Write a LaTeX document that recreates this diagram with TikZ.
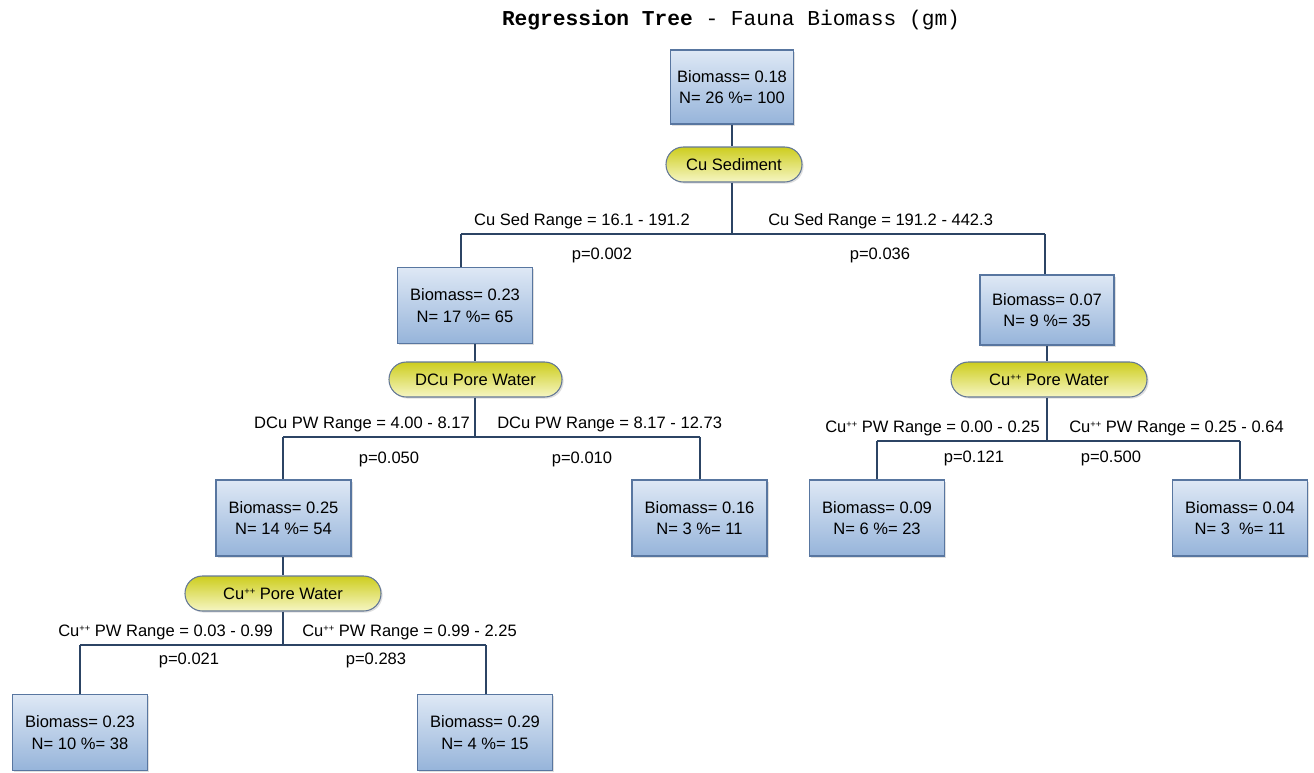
\documentclass[tikz,border=0pt]{standalone}
\usepackage{fontspec}
\setmainfont{Liberation Sans}
\newfontfamily\titlefont{Liberation Mono}
\usetikzlibrary{shadows}
\definecolor{boxtop}{RGB}{222,232,245}
\definecolor{boxbot}{RGB}{150,180,218}
\definecolor{boxline}{RGB}{88,118,160}
\definecolor{pilltop}{RGB}{205,205,30}
\definecolor{pillbot}{RGB}{246,246,196}
\definecolor{pillline}{RGB}{100,120,150}
\definecolor{conn}{RGB}{44,68,100}
\tikzset{
  leafbox/.style={rectangle, draw=boxline, line width=0.8pt, top color=boxtop, bottom color=boxbot,
    inner sep=0pt, minimum width=101.25pt, minimum height=57pt, align=center,
    font=\fontsize{12.4}{16}\selectfont,
    drop shadow={shadow xshift=1.2pt, shadow yshift=-1.2pt, opacity=0.25}},
  pill/.style={rectangle, rounded corners=13pt, draw=pillline, line width=0.8pt, top color=pilltop, bottom color=pillbot,
    inner sep=0pt, minimum height=26.25pt, font=\fontsize{12.4}{14}\selectfont,
    drop shadow={shadow xshift=1.2pt, shadow yshift=-1.2pt, opacity=0.25}},
  lbl/.style={inner sep=0pt, font=\fontsize{12.4}{14}\selectfont},
  conn/.style={draw=conn, line width=1.8pt}
}
\newcommand{\cupp}{Cu\raisebox{0.55ex}{\fontsize{7}{7}\selectfont ++}}
\begin{document}
\begin{tikzpicture}[x=0.75pt, y=-0.75pt]
\useasboundingbox (0,0) rectangle (1314,772);
\node[inner sep=0pt, font=\titlefont\fontsize{15.9}{18}\selectfont] (title) at (731,20) {\textbf{Regression Tree} - Fauna Biomass (gm)};

% level 0
\node[leafbox, minimum width=92.25pt, minimum height=55.5pt] (root) at (732,87) {Biomass= 0.18\\N= 26 \%= 100};
\node[pill, minimum width=102pt] (s1) at (734,164.5) {Cu Sediment};
\coordinate (b1) at (732,234);
\coordinate (b1l) at (461,234);
\coordinate (b1r) at (1045,234);

% level 1
\node[leafbox] (n2) at (465,305.5) {Biomass= 0.23\\N= 17 \%= 65};
\node[leafbox, minimum width=100.5pt, minimum height=52.5pt] (n3) at (1047,310) {Biomass= 0.07\\N= 9 \%= 35};
\node[pill, minimum width=129.75pt] (s2) at (475.5,379.5) {DCu Pore Water};
\node[pill, minimum width=147pt] (s3) at (1049,379.5) {\cupp{} Pore Water};
\coordinate (b2) at (475,437);
\coordinate (b2l) at (283,437);
\coordinate (b2r) at (700,437);
\coordinate (b3) at (1047,441);
\coordinate (b3l) at (877,441);
\coordinate (b3r) at (1240,441);

% level 2
\node[leafbox] (n4) at (283.5,518) {Biomass= 0.25\\N= 14 \%= 54};
\node[leafbox] (n5) at (699.5,518) {Biomass= 0.16\\N= 3 \%= 11};
\node[leafbox] (n6) at (877,518) {Biomass= 0.09\\N= 6 \%= 23};
\node[leafbox] (n7) at (1240,518) {Biomass= 0.04\\N= 3 \ \%= 11};
\node[pill, minimum width=147pt] (s4) at (283,593.5) {\cupp{} Pore Water};
\coordinate (b4) at (283,645);
\coordinate (b4l) at (80,645);
\coordinate (b4r) at (486,645);

% level 3
\node[leafbox] (n8) at (80,732.5) {Biomass= 0.23\\N= 10 \%= 38};
\node[leafbox] (n9) at (485,732.5) {Biomass= 0.29\\N= 4 \%= 15};

% connectors
\draw[conn] (root.south) -- (root.south |- s1.north);
\draw[conn] (s1.south -| root.south) -- (b1);
\draw[conn] (b1l) -- (b1r);
\draw[conn] (b1l) -- (b1l |- n2.north);
\draw[conn] (b1r) -- (b1r |- n3.north);

\draw[conn] (n2.south -| b2) -- (s2.north -| b2);
\draw[conn] (s2.south -| b2) -- (b2);
\draw[conn] (b2l) -- (b2r);
\draw[conn] (b2l) -- (b2l |- n4.north);
\draw[conn] (b2r) -- (b2r |- n5.north);

\draw[conn] (n3.south -| b3) -- (s3.north -| b3);
\draw[conn] (s3.south -| b3) -- (b3);
\draw[conn] (b3l) -- (b3r);
\draw[conn] (b3l) -- (n6.north);
\draw[conn] (b3r) -- (n7.north);

\draw[conn] (n4.south -| b4) -- (s4.north -| b4);
\draw[conn] (s4.south -| b4) -- (b4);
\draw[conn] (b4l) -- (b4r);
\draw[conn] (b4l) -- (n8.north);
\draw[conn] (b4r) -- (b4r |- n9.north);

% labels
\node[lbl, anchor=east] (l1) at (690,221) {Cu Sed Range = 16.1 - 191.2};
\node[lbl, anchor=west] (l2) at (768,221) {Cu Sed Range = 191.2 - 442.3};
\node[lbl] (p1) at (602,255) {p=0.002};
\node[lbl] (p2) at (880,255) {p=0.036};

\node[lbl, anchor=east] (l3) at (470,424) {DCu PW Range = 4.00 - 8.17};
\node[lbl, anchor=west] (l4) at (497,424) {DCu PW Range = 8.17 - 12.73};
\node[lbl] (p3) at (389,459) {p=0.050};
\node[lbl] (p4) at (582,459) {p=0.010};

\node[lbl, anchor=east] (l5) at (1040,428) {\cupp{} PW Range = 0.00 - 0.25};
\node[lbl, anchor=west] (l6) at (1069,428) {\cupp{} PW Range = 0.25 - 0.64};
\node[lbl] (p5) at (974,458) {p=0.121};
\node[lbl] (p6) at (1111,458) {p=0.500};

\node[lbl, anchor=east] (l7) at (273,632) {\cupp{} PW Range = 0.03 - 0.99};
\node[lbl, anchor=west] (l8) at (302,632) {\cupp{} PW Range = 0.99 - 2.25};
\node[lbl] (p7) at (189,660) {p=0.021};
\node[lbl] (p8) at (376,660) {p=0.283};
\end{tikzpicture}
\end{document}
